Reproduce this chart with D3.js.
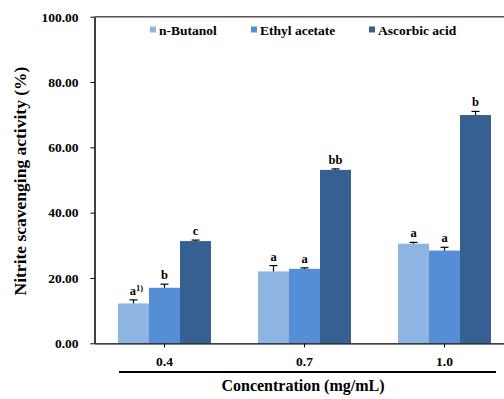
<!DOCTYPE html>
<html>
<head>
<meta charset="utf-8">
<script src="https://cdn.jsdelivr.net/npm/d3@7"></script>
<style>
  body { margin: 0; background: #fff; }
</style>
</head>
<body>
<svg id="chart"></svg>
<script>
// data
const concentrations = ["0.4", "0.7", "1.0"];
const seriesNames = ["n-Butanol", "Ethyl acetate", "Ascorbic acid"];
const butanol = [12.2, 22.0, 30.5];
const ethyl = [17.0, 22.8, 28.4];
const ascorbic = [31.3, 53.1, 69.9];
const butanolErr = [1.1, 1.8, 0.4];
const ethylErr = [1.1, 0.3, 1.0];
const ascorbicErr = [0.3, 0.3, 1.1];
const butanolLetters = ["a", "a", "a"];
const ethylLetters = ["b", "a", "a"];
const ascorbicLetters = ["c", "bb", "b"];
const yTicks = [0, 20, 40, 60, 80, 100];
const colors = ["#8db4e2", "#558ed5", "#376092"];

const FONT = "Liberation Serif";
const width = 504;
const height = 399;
const marginTop = 16.7;
const marginLeft = 94.5;
const plotBottom = 343.3;

const values = [butanol, ethyl, ascorbic];
const errs = [butanolErr, ethylErr, ascorbicErr];
const letters = [butanolLetters, ethylLetters, ascorbicLetters];

const rows = [];
concentrations.forEach((c, i) => {
  seriesNames.forEach((s, j) => {
    rows.push({c, s, j, v: values[j][i], e: errs[j][i], l: letters[j][i], sup: i === 0 && j === 0});
  });
});

const x0 = d3.scaleBand()
    .domain(concentrations)
    .range([marginLeft, marginLeft + 420])
    .padding(0);

const groupW = 93;
const x1 = d3.scaleBand()
    .domain(seriesNames)
    .range([(x0.bandwidth() - groupW) / 2, (x0.bandwidth() + groupW) / 2])
    .padding(0);

const y = d3.scaleLinear()
    .domain([0, 100])
    .range([plotBottom, marginTop]);

const color = d3.scaleOrdinal().domain(seriesNames).range(colors);

const svg = d3.select("#chart")
    .attr("width", width)
    .attr("height", height)
    .attr("viewBox", [0, 0, width, height]);

// top frame line
svg.append("line")
    .attr("x1", marginLeft).attr("x2", width)
    .attr("y1", y(100)).attr("y2", y(100))
    .attr("stroke", "#555").attr("stroke-width", 1.5);

// bars
svg.append("g")
  .selectAll("rect")
  .data(rows)
  .join("rect")
    .attr("x", d => x0(d.c) + x1(d.s))
    .attr("y", d => y(d.v))
    .attr("width", x1.bandwidth())
    .attr("height", d => y(0) - y(d.v))
    .attr("fill", d => color(d.s));

// error bars
const eb = svg.append("g").attr("stroke", "#000").attr("stroke-width", 1.2);
eb.selectAll("line.v")
  .data(rows)
  .join("line")
    .attr("class", "v")
    .attr("x1", d => x0(d.c) + x1(d.s) + x1.bandwidth() / 2)
    .attr("x2", d => x0(d.c) + x1(d.s) + x1.bandwidth() / 2)
    .attr("y1", d => y(d.v))
    .attr("y2", d => y(d.v + d.e));
eb.selectAll("line.cap")
  .data(rows)
  .join("line")
    .attr("class", "cap")
    .attr("x1", d => x0(d.c) + x1(d.s) + x1.bandwidth() / 2 - 4)
    .attr("x2", d => x0(d.c) + x1(d.s) + x1.bandwidth() / 2 + 4)
    .attr("y1", d => y(d.v + d.e))
    .attr("y2", d => y(d.v + d.e));

// significance letters
const lt = svg.append("g")
  .selectAll("text")
  .data(rows)
  .join("text")
    .attr("x", d => x0(d.c) + x1(d.s) + x1.bandwidth() / 2)
    .attr("y", d => y(d.v + d.e) - 5)
    .attr("text-anchor", "middle")
    .attr("font-family", FONT)
    .attr("font-weight", "bold")
    .attr("font-size", 12.5)
    .attr("fill", "#000")
    .text(d => d.l);
lt.filter(d => d.sup)
    .attr("dx", 3)
    .append("tspan")
    .attr("font-size", 8.5)
    .attr("dy", -4)
    .text("1)");

// y axis
svg.append("g")
    .attr("transform", `translate(${marginLeft},0)`)
    .call(d3.axisLeft(y).tickValues(yTicks).tickFormat(d3.format(".2f")).tickSize(4).tickSizeOuter(0).tickPadding(12))
    .call(g => g.select(".domain").attr("stroke", "#000").attr("stroke-width", 1.5))
    .call(g => g.selectAll(".tick line").attr("stroke", "#000"))
    .call(g => g.selectAll(".tick text")
        .attr("font-family", FONT)
        .attr("font-weight", "bold")
        .attr("font-size", 13.5)
        .attr("fill", "#000"));

// x axis
svg.append("g")
    .attr("transform", `translate(0,${plotBottom})`)
    .call(d3.axisBottom(x0).tickSize(4).tickSizeOuter(0).tickPadding(9))
    .call(g => g.select(".domain").attr("stroke", "#000").attr("stroke-width", 1.2))
    .call(g => g.selectAll(".tick line").attr("stroke", "#000"))
    .call(g => g.selectAll(".tick text")
        .attr("font-family", FONT)
        .attr("font-weight", "bold")
        .attr("font-size", 13.5)
        .attr("fill", "#000"));

// underline below categories
svg.append("line")
    .attr("x1", 119).attr("x2", 496)
    .attr("y1", 372).attr("y2", 372)
    .attr("stroke", "#000").attr("stroke-width", 2.2);

// axis titles
svg.append("text")
    .attr("x", 303)
    .attr("y", 391)
    .attr("text-anchor", "middle")
    .attr("font-family", FONT)
    .attr("font-weight", "bold")
    .attr("font-size", 16)
    .text("Concentration (mg/mL)");

svg.append("text")
    .attr("transform", "translate(26,181) rotate(-90)")
    .attr("text-anchor", "middle")
    .attr("font-family", FONT)
    .attr("font-weight", "bold")
    .attr("font-size", 17.5)
    .text("Nitrite scavenging activity (%)");

// legend
const legendX = [150, 251, 369];
const legend = svg.append("g")
  .selectAll("g")
  .data(seriesNames)
  .join("g")
    .attr("transform", (d, i) => `translate(${legendX[i]},30)`);
legend.append("rect")
    .attr("x", 0).attr("y", -3.5)
    .attr("width", 6).attr("height", 6)
    .attr("fill", d => color(d));
legend.append("text")
    .attr("x", 9)
    .attr("y", 0)
    .attr("dy", "0.35em")
    .attr("font-family", FONT)
    .attr("font-weight", "bold")
    .attr("font-size", 13.5)
    .text(d => d);
</script>
</body>
</html>
